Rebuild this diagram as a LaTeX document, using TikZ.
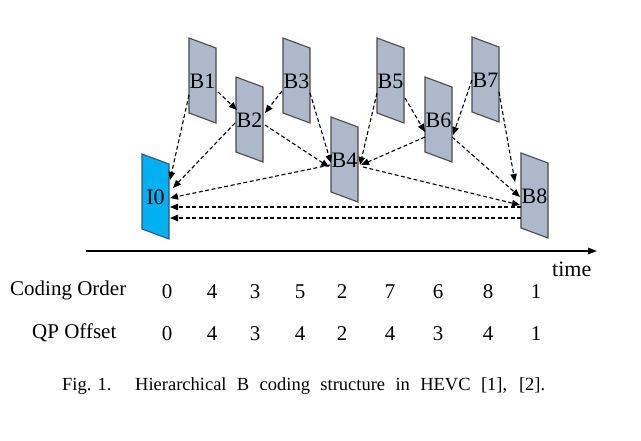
\documentclass[tikz,border=0pt]{standalone}
\usepackage{fontspec}
\setmainfont{Liberation Serif}
\usetikzlibrary{arrows.meta,calc}
\definecolor{framefill}{HTML}{ADB9CA}
\definecolor{frameline}{HTML}{4A4A4A}
\definecolor{ifill}{HTML}{00B0F0}
\definecolor{iline}{HTML}{35557A}
\tikzset{
  bframe/.style={fill=framefill,draw=frameline,line width=1.1pt,line join=miter},
  iframe/.style={fill=ifill,draw=iline,line width=1.1pt,line join=miter},
  lbl/.style={inner sep=0pt,font=\fontsize{22}{24}\selectfont},
  refarr/.style={line width=1.1pt,dash pattern=on 4pt off 2.5pt,-{Triangle[length=8pt,width=6.5pt]}},
  axisline/.style={line width=1.5pt,-{Triangle[length=9pt,width=6.5pt]}},
  rowtxt/.style={inner sep=0pt,anchor=base west,font=\fontsize{21}{24}\selectfont},
  num/.style={inner sep=0pt,anchor=base,font=\fontsize{21}{24}\selectfont},
  captext/.style={inner sep=0pt,anchor=base west,font=\fontsize{18.5}{22}\selectfont}
}
\newcommand\pframe[5]{%
  \filldraw[#5] (#2,#3) -- ++(27,10) -- ++(0,75) -- ++(-27,-10) -- cycle;
  \node[lbl] (#1) at (#2+13.5,#3+43.5) {#4};
}
\newcommand\refarrow[4]{\draw[refarr] ($(#1)+(#2)$) -- ($(#3)+(#4)$);}
\begin{document}
\begin{tikzpicture}[x=1pt,y=-1pt]
\useasboundingbox (0,0) rectangle (641,441);
% frames
\pframe{I0}{142}{154}{I0}{iframe}
\pframe{B1}{189}{38}{B1}{bframe}
\pframe{B2}{236}{77}{B2}{bframe}
\pframe{B3}{283}{38}{B3}{bframe}
\pframe{B4}{331}{117}{B4}{bframe}
\pframe{B5}{377}{38}{B5}{bframe}
\pframe{B6}{425}{77}{B6}{bframe}
\pframe{B7}{472}{37}{B7}{bframe}
\pframe{B8}{521}{153}{B8}{bframe}
% reference arrows
\refarrow{B1}{-13.5,13.5}{I0}{14.5,-17.5}
\refarrow{B1}{15.5,10.5}{B2}{-12.5,-10.5}
\refarrow{B3}{-14.5,9.5}{B2}{15.5,-7.5}
\refarrow{B2}{-14.5,2.5}{I0}{17.5,-9.5}
\refarrow{B2}{15.5,4.5}{B4}{-15.5,6.5}
\refarrow{B3}{13.5,11.5}{B4}{-13.5,2.5}
\refarrow{B4}{-14.5,4.5}{I0}{14.5,0.5}
\refarrow{B5}{-13.5,11.5}{B4}{15.5,4.5}
\refarrow{B5}{14.5,16.5}{B6}{-13.5,11.5}
\refarrow{B7}{-13.5,-0.5}{B6}{14.5,14.5}
\refarrow{B6}{-13.5,16.5}{B4}{16.5,4.5}
\refarrow{B4}{18.5,6.5}{B8}{-14.5,8.5}
\refarrow{B6}{13.5,16.5}{B8}{-14.5,0.5}
\refarrow{B7}{13.5,11.5}{B8}{-19.5,-14.5}
\refarrow{B8}{-13.5,10.5}{I0}{14.5,9.5}
\refarrow{B8}{-13.5,21.5}{I0}{14.5,20.5}
% time axis
\coordinate (t0) at (86,251);
\coordinate (t1) at (597,251);
\draw[axisline] (t0) -- (t1);
\node[rowtxt,font=\fontsize{22}{24}\selectfont] (time) at (552,277) {time};
% rows
\node[rowtxt] (co) at (10,296) {Coding Order};
\node[rowtxt] (qp) at (32,338) {QP Offset};
\foreach \x/\a/\b [count=\i] in {167/0/0,212/4/4,255/3/3,300/5/4,342/2/2,390/7/4,438/6/3,488/8/4,536/1/1}{
  \node[num] (co\i) at (\x,299) {\a};
  \node[num] (qp\i) at (\x,341) {\b};
}
% caption
\node[captext] (fig) at (62,391) {Fig. 1.};
\node[captext] (captxt) at (135,391) {\makebox[410pt][s]{Hierarchical B coding structure in HEVC [1], [2].}};
\end{tikzpicture}
\end{document}
